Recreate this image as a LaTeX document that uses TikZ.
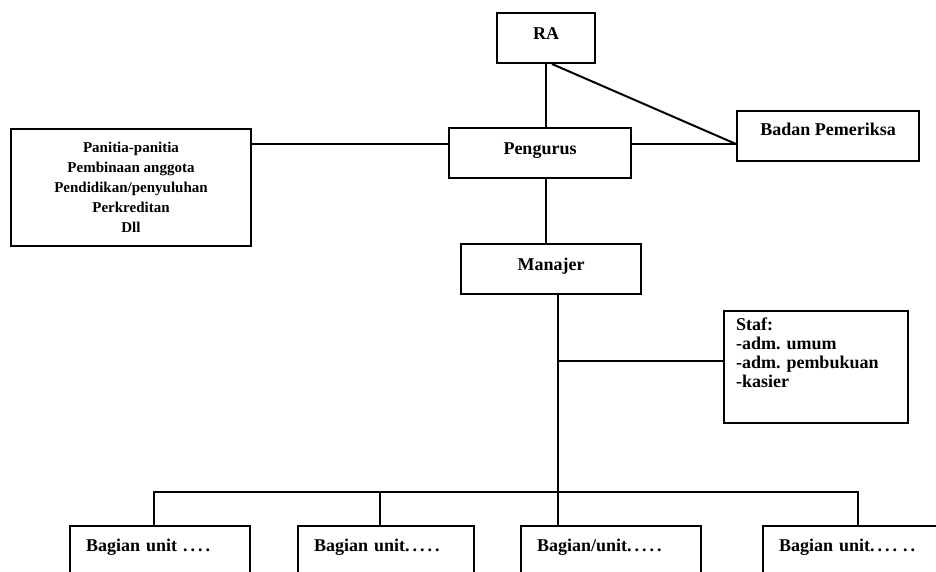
\documentclass[tikz,border=0pt]{standalone}
\usepackage{fontspec}
\setmainfont{Liberation Serif}
\usetikzlibrary{calc}
\frenchspacing

\begin{document}
\begin{tikzpicture}[x=0.5pt,y=-0.5pt]
  \tikzset{unitbox/.style={draw, line width=1pt, anchor=north west, inner sep=0pt,
      font=\fontsize{9}{9.5}\selectfont\bfseries},
    onebox/.style={unitbox, minimum width=#1, minimum height=25pt, text height=6.5pt, text depth=5pt},
    bagian/.style={unitbox, text width=#1, inner xsep=8pt, align=left, text height=12.5pt, text depth=30pt},
    link/.style={line width=1pt}}
  \useasboundingbox (0,0) rectangle (936,572);
  \clip (0,0) rectangle (936,572);
  % top of the chart
  \node[onebox=49pt] (ra) at (496,12) {RA};
  \node[onebox=91pt] (pengurus) at (448,127) {Pengurus};
  \node[onebox=91pt, text depth=7pt] (badan) at (736,110) {Badan Pemeriksa};
  \node[onebox=90pt] (manajer) at (460,243) {Manajer};
  \node[unitbox, minimum width=120pt, minimum height=58.5pt, align=center,
      font=\fontsize{7.5}{10}\selectfont\bfseries] (panitia) at (10,128)
      {Panitia-panitia\\Pembinaan anggota\\Pendidikan/penyuluhan\\Perkreditan\\Dll};
  \node[unitbox, text width=80pt, inner xsep=6pt, inner ysep=2pt, align=left,
      text height=7.5pt, text depth=44.5pt] (staf) at (723,310)
      {Staf:\\-adm. umum\\-adm. pembukuan\\-kasier};
  % units
  \node[bagian=74pt] (unit1) at (69,525) {Bagian unit .\,.\,.\,.};
  \node[bagian=72pt] (unit2) at (297,525) {Bagian unit.\,.\,.\,.\,.};
  \node[bagian=74pt] (unit3) at (520,525) {Bagian/unit.\,.\,.\,.\,.};
  \node[bagian=74pt] (unit4) at (762,525) {Bagian unit.\,.\,.\,.\,\,.\,.};

  \coordinate (pw) at ([yshift=4.5pt]pengurus.west);
  \coordinate (pe) at ([yshift=4.5pt]pengurus.east);
  \coordinate (spine) at ([xshift=3.5pt]manajer.south);
  \coordinate (sw) at ([yshift=3pt]staf.west);
  \coordinate (bus) at ([yshift=16.5pt]unit3.north);
  \coordinate (d1) at ([xshift=-3pt]unit1.north);
  \coordinate (d2) at ([xshift=-3pt]unit2.north);
  \coordinate (d4) at ([xshift=2.5pt]unit4.north);

  \draw[link] (ra.south) -- (ra.south |- pengurus.north);
  \draw[link] ([xshift=3pt]ra.south) -- (pe -| badan.west);
  \draw[link] (pe) -- (pe -| badan.west);
  \draw[link] (pw) -- (pw -| panitia.east);
  \draw[link] (ra.south |- pengurus.south) -- (ra.south |- manajer.north);
  \draw[link] (spine) -- (spine |- unit3.north);
  \draw[link] (sw -| spine) -- (sw);
  \draw[link] (d1) |- (bus -| d4) -- (d4);
  \draw[link] (d2) -- (d2 |- bus);
\end{tikzpicture}
\end{document}
